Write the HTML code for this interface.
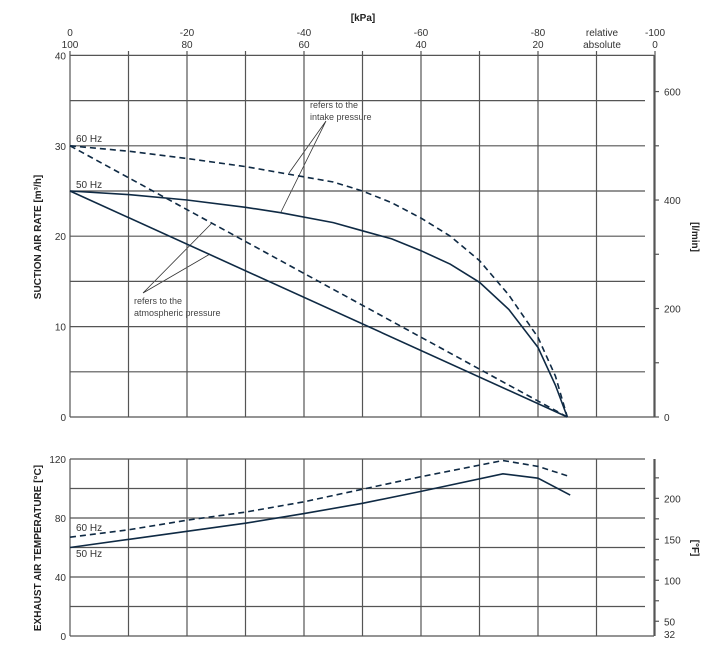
<!DOCTYPE html>
<html><head><meta charset="utf-8"><style>
html,body{margin:0;padding:0;background:#fff;}
svg{display:block;font-family:"Liberation Sans",sans-serif;}
.t{font-size:10px;fill:#333;}
.g{stroke:#555;stroke-width:1.2;fill:none;}
.c{stroke:#0f2a44;stroke-width:1.6;fill:none;}
.d{stroke-dasharray:6,4;}
.a{stroke:#333;stroke-width:0.8;fill:none;}
</style></head><body>
<svg id="chart" width="720" height="653" viewBox="0 0 720 653">
<g id="static">
<text x="363" y="21" text-anchor="middle" font-size="10" font-weight="bold" fill="#222">[kPa]</text>
<text x="602" y="36" text-anchor="middle" class="t">relative</text>
<text x="602" y="48" text-anchor="middle" class="t">absolute</text>
<text transform="translate(41,237) rotate(-90)" text-anchor="middle" font-size="10" font-weight="bold" fill="#222">SUCTION AIR RATE  [m³/h]</text>
<text transform="translate(692,237) rotate(90)" text-anchor="middle" font-size="10" font-weight="bold" fill="#222">[l/min]</text>
<text transform="translate(41,548) rotate(-90)" text-anchor="middle" font-size="10" font-weight="bold" fill="#222">EXHAUST AIR TEMPERATURE  [°C]</text>
<text transform="translate(692,548) rotate(90)" text-anchor="middle" font-size="10" font-weight="bold" fill="#222">[°F]</text>
<text x="76" y="142" class="t" fill="#555">60 Hz</text>
<text x="76" y="188" class="t">50 Hz</text>
<text x="76" y="531" class="t">60 Hz</text>
<text x="76" y="557" class="t">50 Hz</text>
<text x="310" y="108" font-size="9" fill="#444"><tspan x="310">refers to the</tspan><tspan x="310" dy="12">intake pressure</tspan></text>
<text x="134" y="304" font-size="9" fill="#444"><tspan x="134">refers to the</tspan><tspan x="134" dy="12">atmospheric pressure</tspan></text>
<path class="a" d="M326,121 L289,173 M326,121 L281,212 M143,293 L212,223 M143,293 L210,254"/>
</g>
<g id="dyn"></g>
</svg>
<script>
const kpaTicks=[0,-10,-20,-30,-40,-50,-60,-70,-80,-90,-100];
const kpaRelLabels=["0","-20","-40","-60","-80","-100"];
const kpaAbsLabels=["100","80","60","40","20","0"];
const flowTicks=[0,10,20,30,40];
const lminTicks=[0,100,200,300,400,500,600];
const tempTicks=[0,40,80,120];
const fTicks=[32,50,75,100,125,150,175,200,225];
const fLabels=[32,50,100,150,200];
const intake60x=[0,-10,-20,-30,-37,-45,-50,-55,-60,-65,-70,-75,-80,-83,-85];
const intake60y=[30,29.4,28.6,27.7,26.9,26,25,23.7,22,20,17.3,13.5,8.8,4.5,0];
const intake50x=[0,-10,-20,-30,-36,-45,-50,-55,-60,-65,-70,-75,-80,-83,-85];
const intake50y=[25,24.6,24,23.2,22.6,21.5,20.6,19.7,18.4,16.9,14.9,11.9,7.7,3.5,0];
const atm60x=[0,-85];const atm60y=[30,0];
const atm50x=[0,-85];const atm50y=[25,0];
const temp60x=[0,-10,-20,-30,-40,-50,-60,-74,-80,-85.5];
const temp60y=[67,72,78.5,84,91,99.5,108,119,115,108];
const temp50x=[0,-10,-20,-30,-40,-50,-60,-74,-80,-85.5];
const temp50y=[60,65.5,71,76.5,83,90,98,110,107,95.5];

const X=k=>70+(-k)*5.85;
const Y1=v=>417-v*9.04;
const Y2=v=>636-v*1.475;
const ns="http://www.w3.org/2000/svg";
const dyn=document.getElementById('dyn');
function el(tag,attrs,txt){const e=document.createElementNS(ns,tag);for(const k in attrs)e.setAttribute(k,attrs[k]);if(txt!==undefined)e.textContent=txt;dyn.appendChild(e);return e;}

kpaTicks.forEach((k,i)=>{
 const l=el('line',{x1:X(k),x2:X(k),y1:51,y2:417,class:'g'});
 
 
 const l2=el('line',{x1:X(k),x2:X(k),y1:459,y2:636,class:'g'});
 
 
});
for(let v=0;v<=40;v+=5){
 const l=el('line',{x1:70,x2:v===0||v===40?654:645,y1:Y1(v),y2:Y1(v),class:'g'});
 
 
}
for(let v=0;v<=120;v+=20){
 const l=el('line',{x1:70,x2:v===0?654:645,y1:Y2(v),y2:Y2(v),class:'g'});
 
 
}
[[55,417],[459,636]].forEach(r=>{
 const a=el('line',{x1:654,x2:654,y1:r[0],y2:r[1],class:'g'});
 
 
});
kpaRelLabels.forEach((s,i)=>{
 const x=X(-20*i);
 const t=el('text',{x:x,y:36,'text-anchor':'middle',class:'t'},s);
 
 
 const t2=el('text',{x:x,y:48,'text-anchor':'middle',class:'t'},kpaAbsLabels[i]);
 
 
});
flowTicks.forEach(v=>{
 const t=el('text',{x:66,y:Y1(v)+4,'text-anchor':'end',class:'t'},v);
 
 
});
lminTicks.forEach(v=>{
 const y=Y1(v*60/1000);
 const l=el('line',{x1:654,x2:659,y1:y,y2:y,class:'g'});
 
 
 if(v%200===0){const t=el('text',{x:664,y:y+4,class:'t'},v);
 
 }
});
tempTicks.forEach(v=>{
 const t=el('text',{x:66,y:Y2(v)+4,'text-anchor':'end',class:'t'},v);
 
 
});
fTicks.forEach(f=>{
 const y=Y2((f-32)*5/9);
 if(f!==32){const l=el('line',{x1:654,x2:659,y1:y,y2:y,class:'g'});
 
 }
 if(fLabels.includes(f)){const t=el('text',{x:664,y:f===32?y+2:y+4,class:'t'},f);
 
 }
});
function series(xs,ys,Y,dashed,name){
 const d=xs.map((k,i)=>(i?'L':'M')+X(k).toFixed(1)+','+Y(ys[i]).toFixed(1)).join(' ');
 const p=el('path',{d:d,class:'c'+(dashed?' d':'')});
 
 
}
series(intake60x,intake60y,Y1,true,'intake-60hz-curve');
series(intake50x,intake50y,Y1,false,'intake-50hz-curve');
series(atm60x,atm60y,Y1,true,'atmospheric-60hz-line');
series(atm50x,atm50y,Y1,false,'atmospheric-50hz-line');
series(temp60x,temp60y,Y2,true,'temperature-60hz-line');
series(temp50x,temp50y,Y2,false,'temperature-50hz-line');
</script>
</body></html>
